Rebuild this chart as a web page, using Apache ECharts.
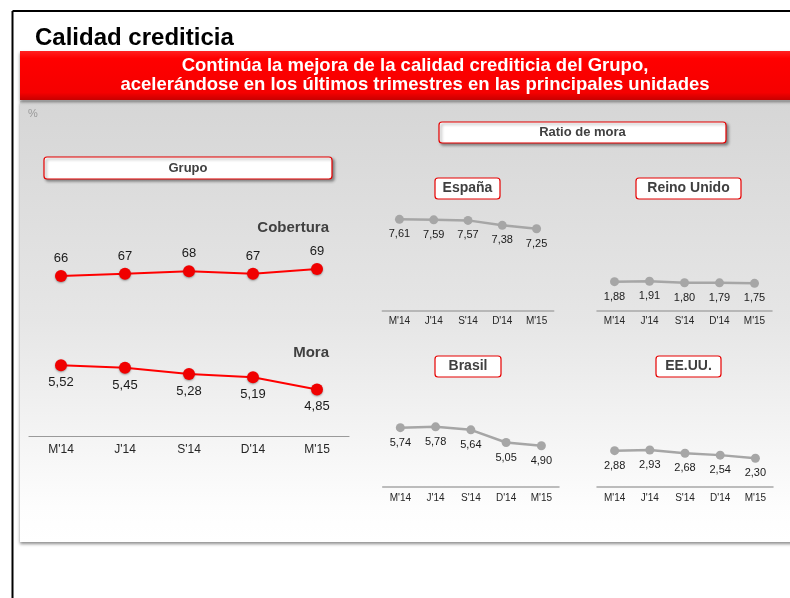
<!DOCTYPE html>
<html>
<head>
<meta charset="utf-8">
<script src="https://cdn.jsdelivr.net/npm/echarts@6/dist/echarts.min.js"></script>
<style>
html,body{margin:0;padding:0;background:#fff;}
#main{width:790px;height:598px;}
</style>
</head>
<body>
<div id="main"></div>
<script>
// ---- data ----
const categories = ["M'14", "J'14", "S'14", "D'14", "M'15"];
const grupoCobertura = [66, 67, 68, 67, 69];
const grupoMora = [5.52, 5.45, 5.28, 5.19, 4.85];
const espana = [7.61, 7.59, 7.57, 7.38, 7.25];
const reinoUnido = [1.88, 1.91, 1.80, 1.79, 1.75];
const brasil = [5.74, 5.78, 5.64, 5.05, 4.90];
const eeuu = [2.88, 2.93, 2.68, 2.54, 2.30];

const pageTitle = 'Calidad crediticia';
const bannerLine1 = 'Continúa la mejora de la calidad crediticia del Grupo,';
const bannerLine2 = 'acelerándose en los últimos trimestres en las principales unidades';

const FONT = '"Liberation Sans", Arial, sans-serif';
const fmt2 = p => p.value.toFixed(2).replace('.', ',');
const fmt0 = p => String(p.value);

const chart = echarts.init(document.getElementById('main'), null, {renderer: 'canvas'});

// panels: grid geometry, y range, axis offset
const panels = [
  {data: grupoCobertura, left: 29, top: 255, width: 320, height: 35, min: 60, max: 75, offset: 0, red: true, pos: 'top', fmt: fmt0, showAxis: false},
  {data: grupoMora, left: 29, top: 348, width: 320, height: 72, min: 4, max: 6, offset: 16, red: true, pos: 'bottom', fmt: fmt2, showAxis: true, labelMargin: 8, catSize: 12},
  {data: espana, left: 382.3, top: 209.2, width: 171.4, height: 52, min: 6, max: 8, offset: 50, red: false, pos: 'bottom', fmt: fmt2, showAxis: true, labelMargin: 5, catSize: 10},
  {data: reinoUnido, left: 597, top: 267.1, width: 175, height: 26, min: 1, max: 3, offset: 18, red: false, pos: 'bottom', fmt: fmt2, showAxis: true, labelMargin: 5, catSize: 10},
  {data: brasil, left: 382.7, top: 422.1, width: 176.3, height: 43, min: 4, max: 6, offset: 21.6, red: false, pos: 'bottom', fmt: fmt2, showAxis: true, labelMargin: 7, catSize: 10},
  {data: eeuu, left: 597, top: 436, width: 176, height: 39.3, min: 1, max: 4, offset: 11.4, red: false, pos: 'bottom', fmt: fmt2, showAxis: true, labelMargin: 7, catSize: 10}
];

const grid = [], xAxis = [], yAxis = [], series = [];
panels.forEach((p, i) => {
  grid.push({left: p.left, top: p.top, width: p.width, height: p.height});
  xAxis.push({
    type: 'category', gridIndex: i, data: categories, boundaryGap: true,
    show: p.showAxis, offset: p.offset, z: 3,
    axisLine: {show: true, lineStyle: {color: p.red ? '#9a9a9a' : '#a8a8a8', width: p.red ? 1.2 : 1.5}},
    axisTick: {show: false},
    axisLabel: {color: '#262626', fontSize: p.catSize || 12, fontFamily: FONT, margin: p.labelMargin || 8}
  });
  yAxis.push({type: 'value', gridIndex: i, min: p.min, max: p.max, show: false});
  series.push({
    type: 'line', xAxisIndex: i, yAxisIndex: i, data: p.data, z: 4,
    symbol: 'circle', symbolSize: p.red ? 12 : 9,
    lineStyle: {color: p.red ? '#ff0000' : '#a6a6a6', width: p.red ? 2 : 2.5},
    itemStyle: p.red
      ? {color: '#f00000', shadowBlur: 2, shadowColor: 'rgba(0,0,0,0.35)', shadowOffsetY: 1}
      : {color: '#a6a6a6'},
    label: {
      show: true, position: p.pos, distance: 5,
      formatter: p.fmt, color: '#1a1a1a', fontFamily: FONT,
      fontSize: p.red ? 13 : 11
    },
    emphasis: {disabled: true},
    animation: false
  });
});

function box(x, y, w, h, text, size, shadow) {
  return [
    {type: 'rect', z: 1, shape: {x: x, y: y, width: w, height: h, r: 3},
     style: Object.assign({fill: '#ffffff', stroke: '#e60000', lineWidth: 1.2},
       shadow ? {shadowBlur: 3, shadowOffsetX: 2, shadowOffsetY: 2, shadowColor: 'rgba(0,0,0,0.4)'} : {})},
    {type: 'text', z: 2, x: x + w / 2, y: y + h / 2,
     style: {text: text, fill: '#404040', font: 'bold ' + size + 'px ' + FONT, align: 'center', verticalAlign: 'middle'}}
  ];
}

const graphics = [
  // grey panel
  {type: 'rect', z: -2, shape: {x: 20, y: 101, width: 775, height: 441},
   style: {fill: new echarts.graphic.LinearGradient(0, 0, 0, 1, [
     {offset: 0, color: '#d6d6d6'}, {offset: 0.5, color: '#e6e6e6'}, {offset: 0.92, color: '#fdfdfd'}, {offset: 1, color: '#ffffff'}]),
     shadowBlur: 3, shadowOffsetY: 2, shadowOffsetX: 0, shadowColor: 'rgba(0,0,0,0.45)'}},
  // red banner
  {type: 'rect', z: -1, shape: {x: 20, y: 51, width: 775, height: 49},
   style: {fill: new echarts.graphic.LinearGradient(0, 0, 0, 1, [
     {offset: 0, color: '#ff2020'}, {offset: 0.15, color: '#ff0000'}, {offset: 0.85, color: '#f50000'}, {offset: 1, color: '#c80000'}]),
     shadowBlur: 3, shadowOffsetY: 2, shadowColor: 'rgba(0,0,0,0.45)'}},
  {type: 'text', z: 2, x: 415, y: 66, style: {text: bannerLine1, fill: '#ffffff', font: 'bold 18.5px ' + FONT, align: 'center', verticalAlign: 'middle'}},
  {type: 'text', z: 2, x: 415, y: 85, style: {text: bannerLine2, fill: '#ffffff', font: 'bold 18.5px ' + FONT, align: 'center', verticalAlign: 'middle'}},
  // black frame
  {type: 'line', z: 2, shape: {x1: 12.5, y1: 11, x2: 790, y2: 11}, style: {stroke: '#000', lineWidth: 2}},
  {type: 'line', z: 2, shape: {x1: 12.5, y1: 11, x2: 12.5, y2: 598}, style: {stroke: '#000', lineWidth: 2}},
  // title
  {type: 'text', z: 2, x: 35, y: 38, style: {text: pageTitle, fill: '#000', font: 'bold 24px ' + FONT, align: 'left', verticalAlign: 'middle'}},
  {type: 'text', z: 2, x: 28, y: 114, style: {text: '%', fill: '#9a9a9a', font: '11px ' + FONT, align: 'left', verticalAlign: 'middle'}},
  // series titles
  {type: 'text', z: 2, x: 329, y: 228, style: {text: 'Cobertura', fill: '#404040', font: 'bold 15px ' + FONT, align: 'right', verticalAlign: 'middle'}},
  {type: 'text', z: 2, x: 329, y: 353, style: {text: 'Mora', fill: '#404040', font: 'bold 15px ' + FONT, align: 'right', verticalAlign: 'middle'}}
].concat(
  box(44, 157, 288, 22, 'Grupo', 13, true),
  box(439, 122, 287, 21, 'Ratio de mora', 13, true),
  box(435, 178, 65, 21, 'España', 14, false),
  box(636, 178, 105, 21, 'Reino Unido', 14, false),
  box(435, 356, 66, 21, 'Brasil', 14, false),
  box(656, 356, 65, 21, 'EE.UU.', 14, false)
);

chart.setOption({
  animation: false,
  textStyle: {fontFamily: FONT},
  graphic: {elements: graphics},
  grid: grid,
  xAxis: xAxis,
  yAxis: yAxis,
  series: series
});
</script>
</body>
</html>
